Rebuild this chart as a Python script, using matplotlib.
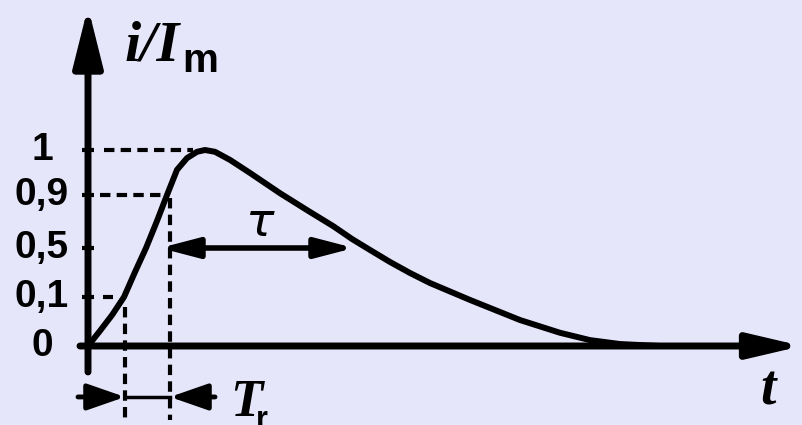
import numpy as np
from matplotlib import pyplot as plt

# pulse current normalised to its peak, i/I_m, against time (arbitrary units)
t_curve = [0, 1.2, 2.4, 3.6, 4.7, 5.8, 6.9, 7.9, 8.9, 9.9, 10.9, 11.7, 12.7,
           14.2, 16.2, 19.2, 22.2, 24.5, 26.4, 28.2, 30.2, 32.2, 34.2, 38.2,
           43.2, 47.2, 50.2, 53.2, 57.2]
i_curve = [0, 0.031, 0.063, 0.100, 0.304, 0.50, 0.704, 0.90, 0.956, 0.982,
           0.996, 1.0, 0.996, 0.978, 0.949, 0.904, 0.772, 0.666, 0.568, 0.484,
           0.386, 0.296, 0.214, 0.094, 0.053, 0.027, 0.012, 0.004, 0.0]

levels = [0, 0.1, 0.5, 0.9, 1]
level_labels = ['0', '0,1', '0,5', '0,9', '1']

t_10 = 3.7     # curve reaches 0.1
t_90 = 8.2     # curve reaches 0.9
t_half_start = 7.2
t_half_end = 26.6

# schematic (non-uniform) vertical axis: value -> height in pixels
scale_v = [-1, 0, 0.1, 0.5, 0.9, 1, 2]
scale_h = [-411, 79, 128, 177, 230, 275, 725]


def forward(v):
    return np.interp(v, scale_v, scale_h)


def inverse(h):
    return np.interp(h, scale_h, scale_v)


bg = '#E6E6FA'
fig = plt.figure(figsize=(8.02, 4.25), dpi=100, facecolor=bg)
ax = fig.add_axes([0, 0, 1, 1], facecolor=bg)
ax.set_yscale('function', functions=(forward, inverse))
ax.set_xlim(-8.8, 71.4)
ax.set_ylim(inverse(0), inverse(425))
ax.axis('off')


def arrow(x0, y0, x1, y1, style, lw):
    ax.annotate('', xy=(x1, y1), xytext=(x0, y0),
                arrowprops=dict(arrowstyle=style, lw=lw, color='k',
                                shrinkA=0, shrinkB=0, mutation_scale=10))


# axes with arrows
arrow(0, -0.053, 0, 1.318, '-|>,head_length=3.6,head_width=0.9', 5)
arrow(-0.8, 0, 71.4, 0, '-|>,head_length=3.2,head_width=0.75', 5)

# tick labels and stubs
for v, lab in zip(levels, level_labels):
    ax.text(-4.6, v, lab, ha='center', va='center', fontsize=28,
            fontweight='bold', family='Liberation Sans')
    ax.plot([-0.6, 0.6], [v, v], color='k', lw=3, solid_capstyle='butt')
ax.plot([1.5, 2.5], [0.1, 0.1], color='k', lw=3, solid_capstyle='butt')

# dashed guides
dash = dict(color='k', lw=3, linestyle=(0, (2.5, 1.5)))
ax.plot([1.6, 10.5], [1, 1], **dash)
ax.plot([1.2, 7.4], [0.9, 0.9], **dash)
ax.plot([t_10, t_10], [0.08, -0.151], **dash)
ax.plot([t_90, t_90], [0.88, -0.151], **dash)

# pulse
ax.plot(t_curve, i_curve, color='k', lw=4.3, solid_capstyle='round',
        solid_joinstyle='round')

# half-amplitude width tau
arrow(t_half_start, 0.5, t_half_end, 0.5,
      '<|-|>,head_length=2.3,head_width=0.6', 4)
ax.text(15.7, 0.59, r'$\tau$', fontsize=34, ha='left', va='baseline',
        family='serif')

# rise time T_r
arrow(-1.0, -0.104, t_10, -0.104, '-|>,head_length=2.3,head_width=0.8', 3.5)
arrow(12.7, -0.104, t_90, -0.104, '-|>,head_length=2.3,head_width=0.8', 3.5)
ax.plot([t_10, t_90], [-0.104, -0.104], color='k', lw=2.5)
ax.text(14.2, -0.143, 'T', fontsize=38, fontstyle='italic', fontweight='bold',
        family='Liberation Serif', ha='left', va='baseline')
ax.text(16.8, -0.168, 'r', fontsize=22, fontweight='bold',
        family='Liberation Sans', ha='left', va='baseline')

# axis titles
ax.text(3.7, 1.2, 'i/I', fontsize=42, fontstyle='italic', fontweight='bold',
        family='Liberation Serif', ha='left', va='baseline')
ax.text(9.4, 1.173, 'm', fontsize=29, fontweight='bold',
        family='Liberation Sans', ha='left', va='baseline')
ax.text(67.2, -0.120, 't', fontsize=40, fontstyle='italic', fontweight='bold',
        family='Liberation Serif', ha='left', va='baseline')

fig.savefig('out.png', dpi=100, facecolor=bg)
